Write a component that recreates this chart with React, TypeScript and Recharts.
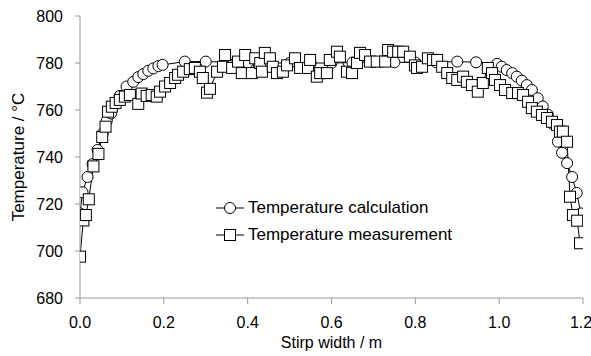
import { Label, Line, LineChart, XAxis, YAxis } from "recharts";

// strip width (m) and temperature (°C)
const calcX = [
  0.0, 0.006, 0.018, 0.03, 0.042, 0.054, 0.064, 0.074, 0.085, 0.095, 0.111, 0.127, 0.139, 0.151,
  0.163, 0.175, 0.187, 0.197, 0.25, 0.3, 0.35, 0.4, 0.45, 0.5, 0.55, 0.6, 0.65, 0.7, 0.75, 0.8,
  0.85, 0.9, 0.945, 0.995, 1.006, 1.018, 1.031, 1.042, 1.054, 1.066, 1.078, 1.092, 1.104, 1.116,
  1.128, 1.14, 1.15, 1.162, 1.174, 1.185, 1.195,
];
const calcT = [
  716, 725, 731.5, 737, 743, 750, 755.5, 758.5, 762.5, 766, 770, 772, 774, 775.3,
  776.7, 777.7, 778.7, 779.2, 780.6, 780.6, 780.4, 780.2, 780, 780, 780, 780, 780.2, 780.4, 780.3, 780.2,
  780.3, 780.6, 780.3, 779.6, 778.4, 777, 775.7, 774.2, 772.5, 770.6, 768.5, 765, 761.5, 758,
  754, 746.5, 741.8, 737.4, 731.5, 724.7, 716,
];

const measX = [
  0.0, 0.008, 0.014, 0.021, 0.032, 0.044, 0.053, 0.061, 0.067, 0.076, 0.085, 0.095, 0.107, 0.119,
  0.139, 0.147, 0.159, 0.171, 0.183, 0.191, 0.203, 0.215, 0.227, 0.234, 0.246, 0.262, 0.274,
  0.286, 0.293, 0.303, 0.31, 0.327, 0.341, 0.346, 0.363, 0.377, 0.386, 0.394, 0.41, 0.418, 0.43,
  0.434, 0.441, 0.453, 0.46, 0.47, 0.484, 0.494, 0.513, 0.525, 0.544, 0.549, 0.565,
  0.573, 0.589, 0.596, 0.613, 0.62, 0.637, 0.649, 0.661, 0.668, 0.68, 0.692, 0.708, 0.728, 0.735,
  0.747, 0.759, 0.771, 0.787, 0.799, 0.804, 0.816, 0.83, 0.842,
  0.852, 0.864, 0.876, 0.888, 0.9, 0.914, 0.923, 0.935, 0.949, 0.961, 0.973, 0.983, 0.99, 1.002,
  1.014, 1.031, 1.045, 1.057, 1.069, 1.078, 1.09, 1.102, 1.114, 1.126, 1.138, 1.145, 1.152,
  1.162, 1.169, 1.176, 1.186, 1.193,
];
const measT = [
  697.6, 713, 715.3, 722, 736, 741.3, 748.5, 752.9, 759.3, 761.4, 763, 764.3, 765.7, 766.4,
  762.6, 767, 766, 766.4, 765.7, 767.8, 770, 771.5, 773.6, 775, 776.3, 777.4, 777.9,
  776.3, 773.6, 767.4, 769, 776.3, 778.4, 783.4, 777.9, 780.6, 775.7, 783.4, 775.7, 782, 780,
  776.3, 784.3, 782, 778.4, 775.7, 776.3, 779, 782, 777.9, 777.9, 781.3, 774.2,
  775.7, 775.7, 781.3, 784.8, 782.7, 776.3, 775.7, 780, 784.3, 783.4, 780.6, 780.6, 780.6, 785.5,
  784.8, 784.8, 784.8, 782.7, 779, 777.9, 778.4, 782, 781.3,
  781.3, 778.4, 775.7, 773.6, 772.8, 774.2, 772, 770.6, 767.8, 771.5, 777.9, 775.7, 772.8, 770.6,
  768.5, 767.2, 767.2, 766.4, 763.5, 760.8, 759.3, 757.9, 756.6, 755, 753.6, 750.8, 750.8,
  746.5, 723.1, 715.3, 712.9, 703.3,
];

const xTicks = [0, 0.2, 0.4, 0.6, 0.8, 1.0, 1.2];
const yTicks = [680, 700, 720, 740, 760, 780, 800];

const calcData = calcX.map((x, i) => ({ x, t: calcT[i] }));
const measData = measX.map((x, i) => ({ x, t: measT[i] }));

const FONT = '"Liberation Sans", Arial, sans-serif';
const AXIS = "#999";

function CircleDot(p: any) {
  return <circle key={`c${p.index}`} cx={p.cx} cy={p.cy} r={5.5} fill="#fff" stroke="#000" strokeWidth={1} />;
}

function SquareDot(p: any) {
  return (
    <rect key={`s${p.index}`} x={p.cx - 5.5} y={p.cy - 5.5} width={11} height={11} fill="#fff" stroke="#000" strokeWidth={1} />
  );
}

function LegendBox() {
  const row = (name: string, square: boolean) => (
    <div style={{ display: "flex", alignItems: "center", height: 27 }}>
      <svg width={32} height={14} style={{ marginRight: 2 }}>
        <line x1={2} y1={7} x2={30} y2={7} stroke="#000" strokeWidth={1} />
        {square ? (
          <rect x={10.5} y={1.5} width={11} height={11} fill="#fff" stroke="#000" />
        ) : (
          <circle cx={16} cy={7} r={5.5} fill="#fff" stroke="#000" />
        )}
      </svg>
      <span>{name}</span>
    </div>
  );
  return (
    <div
      style={{
        position: "absolute",
        left: 214,
        top: 194,
        fontFamily: FONT,
        fontSize: 17,
        color: "#000",
        lineHeight: "27px",
        whiteSpace: "nowrap",
      }}
    >
      {row("Temperature calculation", false)}
      {row("Temperature measurement", true)}
    </div>
  );
}

export default function App() {
  return (
    <div style={{ position: "absolute", left: 0, top: 0, width: 591, height: 356, background: "#fff" }}>
      <LineChart width={591} height={356} margin={{ top: 16, right: 8, left: 18, bottom: 18 }}>
        <XAxis
          type="number"
          dataKey="x"
          domain={[0, 1.2]}
          ticks={xTicks}
          tickFormatter={(v: number) => v.toFixed(1)}
          height={40}
          stroke={AXIS}
          tickSize={6}
          tickMargin={13}
          tick={{ fill: "#000", fontSize: 16, fontFamily: FONT }}
          allowDataOverflow
        >
          <Label
            content={({ viewBox }: any) => (
              <text
                x={viewBox.x + viewBox.width / 2}
                y={342}
                textAnchor="middle"
                dominantBaseline="central"
                fontSize={16}
                fontFamily={FONT}
                fill="#000"
              >
                Stirp width / m
              </text>
            )}
          />
        </XAxis>
        <YAxis
          type="number"
          domain={[680, 800]}
          ticks={yTicks}
          width={62}
          stroke={AXIS}
          tickSize={5}
          tickMargin={12}
          tick={{ fill: "#000", fontSize: 16, fontFamily: FONT }}
        >
          <Label
            content={({ viewBox }: any) => {
              const cy = viewBox.y + viewBox.height / 2;
              return (
                <text
                  x={18}
                  y={cy}
                  transform={`rotate(-90 18 ${cy})`}
                  textAnchor="middle"
                  dominantBaseline="central"
                  fontSize={17}
                  fontFamily={FONT}
                  fill="#000"
                >
                  Temperature / °C
                </text>
              );
            }}
          />
        </YAxis>
        <Line
          data={calcData}
          dataKey="t"
          type="linear"
          stroke="#000"
          strokeWidth={1}
          dot={CircleDot}
          activeDot={false}
          isAnimationActive={false}
        />
        <Line
          data={measData}
          dataKey="t"
          type="linear"
          stroke="#000"
          strokeWidth={1}
          dot={SquareDot}
          activeDot={false}
          isAnimationActive={false}
        />
      </LineChart>
      <LegendBox />
    </div>
  );
}
